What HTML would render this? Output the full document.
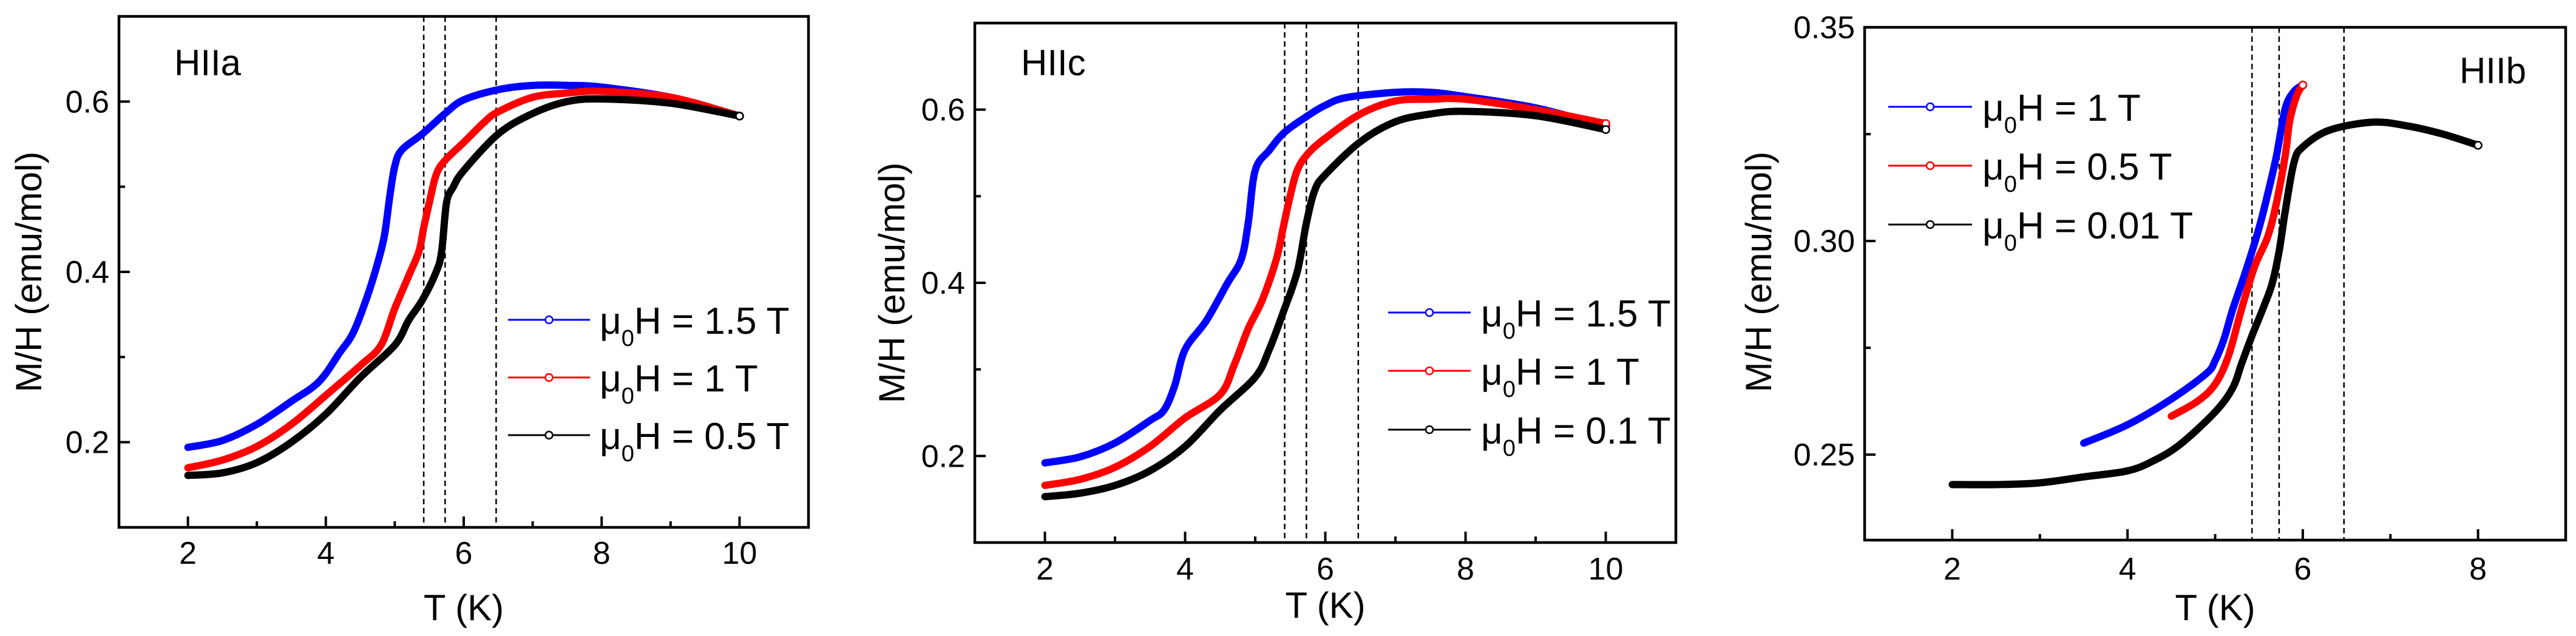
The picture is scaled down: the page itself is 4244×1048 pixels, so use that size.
<!DOCTYPE html>
<html><head><meta charset="utf-8">
<style>
html,body{margin:0;padding:0;background:#fff;}
svg{display:block;font-family:"Liberation Sans",Arial,sans-serif;}
</style></head>
<body>
<svg id="fig" width="4244" height="1048" viewBox="0 0 4244 1048" xmlns="http://www.w3.org/2000/svg"></svg>
<script>
// ---------- Data ----------
// Panel a (HIIa)
const aT_blue = [2,2.5,3,3.5,3.9,4.2,4.4,4.6,4.75,4.85,4.93,5.0,5.1,5.4,5.73,6.0,6.5,7.0,7.5,8,9,10];
const aM_blue = [0.194,0.202,0.221,0.248,0.271,0.305,0.329,0.371,0.410,0.443,0.490,0.524,0.543,0.562,0.586,0.602,0.614,0.619,0.619,0.617,0.605,0.583];
const aT_red = [2,2.5,3,3.5,4,4.5,4.8,5.0,5.2,5.35,5.42,5.5,5.6,5.73,6.0,6.3,6.5,7,7.5,8,9,10];
const aM_red = [0.170,0.179,0.195,0.221,0.255,0.290,0.314,0.357,0.395,0.424,0.452,0.481,0.514,0.531,0.552,0.576,0.588,0.605,0.610,0.612,0.605,0.583];
const aT_black = [2,2.5,3,3.5,4,4.5,5.0,5.2,5.4,5.6,5.68,5.75,5.85,6.0,6.5,7,7.5,8,9,10];
const aM_black = [0.161,0.164,0.176,0.200,0.233,0.276,0.314,0.343,0.367,0.400,0.424,0.481,0.500,0.519,0.562,0.586,0.600,0.603,0.598,0.583];
// Panel c (HIIc)
const cT_blue = [2,2.5,3,3.5,3.7,3.85,4.0,4.3,4.6,4.8,4.9,5.0,5.2,5.42,5.75,6.0,6.3,7,7.5,8,9,10];
const cM_blue = [0.192,0.199,0.215,0.241,0.253,0.281,0.323,0.356,0.399,0.427,0.469,0.530,0.553,0.574,0.593,0.605,0.614,0.620,0.620,0.615,0.602,0.581];
const cT_red = [2,2.5,3,3.5,4,4.5,4.7,4.9,5.1,5.3,5.4,5.5,5.6,5.75,6.0,6.5,7,7.5,8,9,10];
const cM_red = [0.166,0.173,0.187,0.211,0.244,0.271,0.305,0.347,0.380,0.427,0.464,0.501,0.530,0.549,0.567,0.595,0.610,0.612,0.612,0.600,0.584];
const cT_black = [2,2.5,3,3.5,4,4.5,5.0,5.2,5.4,5.6,5.73,5.85,6.0,6.5,7,7.5,8,9,10];
const cM_black = [0.153,0.157,0.166,0.183,0.211,0.253,0.291,0.323,0.366,0.413,0.469,0.507,0.525,0.563,0.586,0.595,0.598,0.593,0.577];
// Panel b (HIIb)
const bT_blue = [3.5,4.0,4.5,4.9,5.0,5.1,5.2,5.35,5.5,5.6,5.7,5.8,5.9,6.0];
const bM_blue = [0.2527,0.257,0.263,0.269,0.272,0.277,0.284,0.293,0.303,0.311,0.320,0.331,0.335,0.3365];
const bT_red = [4.5,4.8,5.0,5.15,5.3,5.45,5.6,5.7,5.8,5.85,5.93,6.0];
const bM_red = [0.259,0.2625,0.2665,0.273,0.284,0.294,0.301,0.309,0.320,0.328,0.334,0.3365];
const bT_black = [2,2.5,3,3.5,4,4.3,4.6,5.0,5.2,5.3,5.42,5.55,5.65,5.73,5.8,5.9,6.0,6.3,6.8,7.2,7.6,8];
const bM_black = [0.243,0.243,0.2434,0.2448,0.2462,0.2486,0.2524,0.260,0.2656,0.2712,0.2778,0.2844,0.290,0.2976,0.307,0.3184,0.322,0.3259,0.3278,0.3269,0.325,0.3224];
// Ticks
const aXTicks = [2,4,6,8,10];
const aYTicks = [0.2,0.4,0.6];
const aYTickLabels = ["0.2","0.4","0.6"];
const cXTicks = [2,4,6,8,10];
const cYTicks = [0.2,0.4,0.6];
const cYTickLabels = ["0.2","0.4","0.6"];
const bXTicks = [2,4,6,8];
const bYTicks = [0.25,0.30,0.35];
const bYTickLabels = ["0.25","0.30","0.35"];
const dashedT = [5.42,5.73,6.47];
const aLegend = ["1.5 T","1 T","0.5 T"];
const cLegend = ["1.5 T","1 T","0.1 T"];
const bLegend = ["1 T","0.5 T","0.01 T"];

const NS = "http://www.w3.org/2000/svg";
const svg = document.getElementById('fig');
function mk(tag, attrs, parent){
  const e = document.createElementNS(NS, tag);
  for (const k in attrs) e.setAttribute(k, attrs[k]);
  (parent||svg).appendChild(e);
  return e;
}
function smoothPath(P){
  let d = 'M' + P[0][0].toFixed(1) + ',' + P[0][1].toFixed(1);
  for (let i=0;i<P.length-1;i++){
    const p0 = P[Math.max(0,i-1)], p1 = P[i], p2 = P[i+1], p3 = P[Math.min(P.length-1,i+2)];
    const k = 1/6;
    const c1 = [p1[0]+(p2[0]-p0[0])*k, p1[1]+(p2[1]-p0[1])*k];
    const c2 = [p2[0]-(p3[0]-p1[0])*k, p2[1]-(p3[1]-p1[1])*k];
    d += ' C'+c1[0].toFixed(1)+','+c1[1].toFixed(1)+' '+c2[0].toFixed(1)+','+c2[1].toFixed(1)+' '+p2[0].toFixed(1)+','+p2[1].toFixed(1);
  }
  return d;
}

function panel(cfg){
  const g = mk('g', {});
  
  
  const X = t => cfg.L + (t - cfg.x0)/(cfg.x1 - cfg.x0)*(cfg.R - cfg.L);
  const Y = v => cfg.B - (v - cfg.y0)/(cfg.y1 - cfg.y0)*(cfg.B - cfg.T);
  dashedT.forEach((t,i)=>{
    const l = mk('line', {x1:X(t), x2:X(t), y1:cfg.T, y2:cfg.B, stroke:'#000','stroke-width':2.5,'stroke-dasharray':'9,6'}, g);
    
    
  });
  cfg.series.forEach(s=>{
    const P = s.t.map((t,i)=>[X(t), Y(s.m[i])]);
    const p = mk('path', {d:smoothPath(P), fill:'none', stroke:s.color, 'stroke-width':12, 'stroke-linejoin':'round','stroke-linecap':'round'}, g);
    
    
    const last = s.t.length-1;
    const c = mk('circle', {cx:X(s.t[last]), cy:Y(s.m[last]), r:6, fill:'#fff', stroke:s.color, 'stroke-width':2.5}, g);
    
    
  });
  const f = mk('rect', {x:cfg.L, y:cfg.T, width:cfg.R-cfg.L, height:cfg.B-cfg.T, fill:'none', stroke:'#000','stroke-width':4.5}, g);
  
  
  cfg.xticks.forEach(t=>{
    mk('line', {x1:X(t), x2:X(t), y1:cfg.B, y2:cfg.B-18, stroke:'#000','stroke-width':4}, g);
    const lab = mk('text', {x:X(t), y:cfg.xlabY, 'font-size':52, 'text-anchor':'middle'}, g);
    lab.textContent = String(t);
    
    
    const tm = t + (cfg.xticks[1]-cfg.xticks[0])/2;
    if (tm < cfg.x1) mk('line', {x1:X(tm), x2:X(tm), y1:cfg.B, y2:cfg.B-10, stroke:'#000','stroke-width':4}, g);
  });
  const dy = cfg.yticks[1]-cfg.yticks[0];
  cfg.yticks.forEach((v,i)=>{
    mk('line', {x1:cfg.L, x2:cfg.L+18, y1:Y(v), y2:Y(v), stroke:'#000','stroke-width':4}, g);
    const lab = mk('text', {x:cfg.L-16, y:Y(v)+18, 'font-size':52, 'text-anchor':'end'}, g);
    lab.textContent = cfg.ylabels[i];
    
    
    const vm = v + dy/2;
    if (vm < cfg.y1 - 1e-9) mk('line', {x1:cfg.L, x2:cfg.L+10, y1:Y(vm), y2:Y(vm), stroke:'#000','stroke-width':4}, g);
  });
  const xt = mk('text', {x:(cfg.L+cfg.R)/2, y:cfg.xtitleY, 'font-size':60, 'text-anchor':'middle'}, g);
  xt.textContent = 'T (K)';
  
  
  const yt = mk('text', {x:0, y:0, 'font-size':60, 'text-anchor':'middle', transform:`translate(${cfg.ytitleX},${cfg.ytitleY}) rotate(-90)`}, g);
  yt.textContent = 'M/H (emu/mol)';
  
  
  const pl = mk('text', {x:cfg.labX, y:cfg.labY, 'font-size':60, 'text-anchor':cfg.labAnchor}, g);
  pl.textContent = cfg.label;
  
  
  cfg.series.forEach((s,i)=>{
    const y = cfg.legY[i];
    const lg = mk('g', {}, g);
    
    
    mk('line', {x1:cfg.legX1, x2:cfg.legX2, y1:y, y2:y, stroke:s.color, 'stroke-width':3}, lg);
    mk('circle', {cx:(cfg.legX1+cfg.legX2)/2, cy:y, r:6, fill:'#fff', stroke:s.color, 'stroke-width':2.5}, lg);
    const tx = mk('text', {x:cfg.legTX, y:y+23, 'font-size':62}, lg);
    const t1 = mk('tspan', {}, tx); t1.textContent = 'μ';
    const t2 = mk('tspan', {'font-size':38, dy:20}, tx); t2.textContent = '0';
    const t3 = mk('tspan', {dy:-20}, tx); t3.textContent = 'H = ' + cfg.legend[i];
  });
}

panel({name:'panel-hiia', L:196, R:1332, T:27, B:869, x0:1, x1:11, y0:0.1, y1:0.7,
  xticks:aXTicks, yticks:aYTicks, ylabels:aYTickLabels, xlabY:929, xtitleY:1022, ytitleX:68, ytitleY:448,
  label:'HIIa', labX:287, labY:124, labAnchor:'start',
  legX1:837, legX2:972, legTX:988, legY:[527,622,717], legend:aLegend,
  series:[{name:'series-a-1.5T', color:'#0000ff', t:aT_blue, m:aM_blue},
          {name:'series-a-1T', color:'#ff0000', t:aT_red, m:aM_red},
          {name:'series-a-0.5T', color:'#000000', t:aT_black, m:aM_black}]});

panel({name:'panel-hiic', L:1606, R:2761, T:38, B:894, x0:1, x1:11, y0:0.1, y1:0.7,
  xticks:cXTicks, yticks:cYTicks, ylabels:cYTickLabels, xlabY:955, xtitleY:1018, ytitleX:1490, ytitleY:466,
  label:'HIIc', labX:1682, labY:124, labAnchor:'start',
  legX1:2287, legX2:2423, legTX:2440, legY:[515,611,708], legend:cLegend,
  series:[{name:'series-c-1.5T', color:'#0000ff', t:cT_blue, m:cM_blue},
          {name:'series-c-1T', color:'#ff0000', t:cT_red, m:cM_red},
          {name:'series-c-0.1T', color:'#000000', t:cT_black, m:cM_black}]});

panel({name:'panel-hiib', L:3072, R:4227, T:45, B:890, x0:1, x1:9, y0:0.23, y1:0.35,
  xticks:bXTicks, yticks:bYTicks, ylabels:bYTickLabels, xlabY:955, xtitleY:1022, ytitleX:2918, ytitleY:448,
  label:'HIIb', labX:4162, labY:137, labAnchor:'end',
  legX1:3111, legX2:3249, legTX:3266, legY:[176,273,370], legend:bLegend,
  series:[{name:'series-b-1T', color:'#0000ff', t:bT_blue, m:bM_blue},
          {name:'series-b-0.5T', color:'#ff0000', t:bT_red, m:bM_red},
          {name:'series-b-0.01T', color:'#000000', t:bT_black, m:bM_black}]});
</script>
</body></html>
